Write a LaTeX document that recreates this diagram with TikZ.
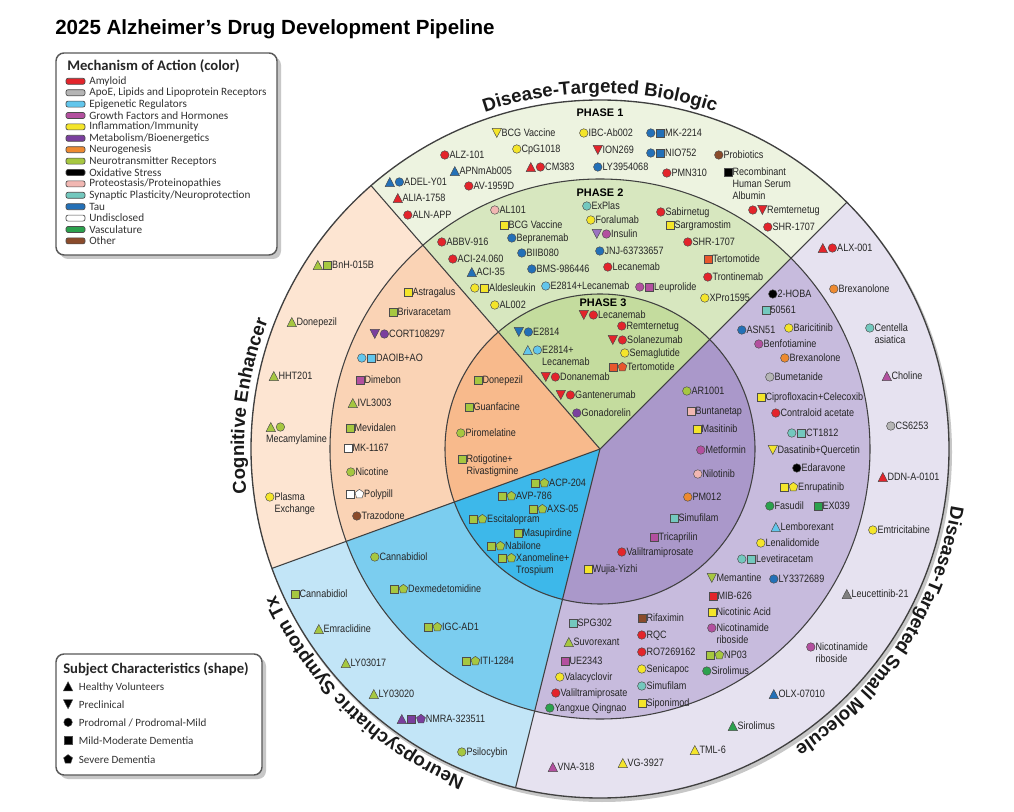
\documentclass[tikz,border=0pt]{standalone}
\usepackage{fontspec}
\setmainfont{Liberation Sans}
\newfontfamily\nf[FakeStretch=0.85]{Liberation Sans}
\newfontfamily\cf{Carlito}
\usetikzlibrary{decorations.text}
\definecolor{amy}{HTML}{E3242B}
\definecolor{apoe}{HTML}{B5B5B5}
\definecolor{epi}{HTML}{62C6EC}
\definecolor{grow}{HTML}{7A3F9E}
\definecolor{infl}{HTML}{F4E52A}
\definecolor{meta}{HTML}{B3509F}
\definecolor{neurog}{HTML}{EE8A30}
\definecolor{ntr}{HTML}{A6C740}
\definecolor{oxs}{HTML}{000000}
\definecolor{prot}{HTML}{F1B7B2}
\definecolor{syn}{HTML}{73C8BE}
\definecolor{tau}{HTML}{2370B7}
\definecolor{und}{HTML}{FFFFFF}
\definecolor{vasc}{HTML}{2BA14D}
\definecolor{oth}{HTML}{8A4B2B}
\definecolor{tert}{HTML}{E8572C}
\definecolor{insc}{HTML}{9B73C2}
\definecolor{leuc}{HTML}{7F7F7F}
\definecolor{lbltext}{HTML}{262626}
\definecolor{g1}{HTML}{EDF3E0}
\definecolor{g2}{HTML}{D7E7BF}
\definecolor{g3}{HTML}{C4DC9E}
\definecolor{o1}{HTML}{FDE5D2}
\definecolor{o2}{HTML}{FAD3B5}
\definecolor{o3}{HTML}{F8BA8C}
\definecolor{b1}{HTML}{C2E5F7}
\definecolor{b2}{HTML}{7BCDEF}
\definecolor{b3}{HTML}{3DB8EA}
\definecolor{p1}{HTML}{E6E2F0}
\definecolor{p2}{HTML}{C7BBDD}
\definecolor{p3}{HTML}{AA98CA}
\tikzset{mkst/.style={line width=0.35pt, draw=black!70, fill=#1}}
\newcommand\mkbb{\useasboundingbox (0pt,-1pt) rectangle (7.2pt,6.5pt);}
\newcommand\Mc[1]{\tikz[baseline=0pt]{\mkbb\path[mkst=#1] (3.6pt,2.9pt) circle[radius=3.2pt];}}
\newcommand\Ms[1]{\tikz[baseline=0pt]{\mkbb\path[mkst=#1] (0.55pt,-0.15pt) rectangle (6.65pt,5.95pt);}}
\newcommand\Mt[1]{\tikz[baseline=0pt]{\mkbb\path[mkst=#1] (0.1pt,-0.5pt) -- (7.1pt,-0.5pt) -- (3.6pt,6.3pt) -- cycle;}}
\newcommand\Mv[1]{\tikz[baseline=0pt]{\mkbb\path[mkst=#1] (0.1pt,6.3pt) -- (7.1pt,6.3pt) -- (3.6pt,-0.5pt) -- cycle;}}
\newcommand\Mp[1]{\tikz[baseline=0pt]{\mkbb\path[mkst=#1] (3.6pt,6.4pt) -- (6.93pt,3.98pt) -- (5.66pt,0.07pt) -- (1.54pt,0.07pt) -- (0.27pt,3.98pt) -- cycle;}}
\newcommand\indA{\hspace*{7.2pt}}
\newcommand\indB{\hspace*{14.4pt}}
\newcommand\sect{\bfseries\fontsize{14}{16}\selectfont}
\newcommand\slice[4]{\fill[#1] (0,0) -- (#2:#4) arc[start angle=#2, end angle=#3, radius=#4] -- cycle;}
\begin{document}
\begin{tikzpicture}[x=0.75pt,y=-0.75pt,
  lbl/.style={anchor=north west, yshift=3.6pt, inner sep=0pt, outer sep=0pt, align=left, font=\nf\fontsize{8}{8.8}\selectfont, text=lbltext},
  phase/.style={inner sep=0pt, font=\bfseries\fontsize{8.2}{10}\selectfont},
  bline/.style={draw=black!75, line width=0.8pt},
  legbox/.style={fill=white, draw=black!65, line width=1.1pt, rounded corners=6pt},
  legshadow/.style={fill=black!22, rounded corners=6pt},
  sleg/.style={anchor=north west, yshift=3.6pt, inner sep=0pt, font=\cf\fontsize{8.3}{10}\selectfont, text=black!80},
  sectxt/.style={decorate, decoration={text along path, text align=center, text color=black!90}}]
\useasboundingbox (0,0) rectangle (1014,812);
\fill[white] (0,0) rectangle (1014,812);
\node[anchor=west, inner sep=0pt, font=\bfseries\fontsize{15.4}{18}\selectfont] (title) at (55,29) {2025 Alzheimer’s Drug Development Pipeline};

\begin{scope}[shift={(600,449)}]
\fill[black!22] (2,3) circle[radius=350];
\slice{g1}{-45}{-131}{349}
\slice{g2}{-45}{-131}{270}
\slice{g3}{-45}{-131}{155}
\slice{o1}{-131}{-200}{349}
\slice{o2}{-131}{-200}{270}
\slice{o3}{-131}{-200}{155}
\slice{b1}{-200}{-256}{349}
\slice{b2}{-200}{-256}{270}
\slice{b3}{-200}{-256}{155}
\slice{p1}{-256}{-405}{349}
\slice{p2}{-256}{-405}{270}
\slice{p3}{-256}{-405}{155}
\draw[bline] (0,0) circle[radius=155] (0,0) circle[radius=270];
\draw[bline, line width=1pt] (0,0) circle[radius=349];
\foreach \a in {-45,-131,-200,-256} \draw[bline] (0,0) -- (\a:349);
\path[sectxt, decoration={text={|\sect|Disease-Targeted Biologic}}] (-115:356) arc[start angle=-115, end angle=-65, radius=356];
\path[sectxt, decoration={text={|\sect|Disease-Targeted Small Molecule}}] (3:356) arc[start angle=3, end angle=63, radius=356];
\path[sectxt, decoration={text={|\sect|Neuropsychiatric Symptom Tx}}] (-250:356) arc[start angle=-250, end angle=-202, radius=356];
\path[sectxt, decoration={text={|\sect|Cognitive Enhancer}}] (-194:356) arc[start angle=-194, end angle=-152, radius=356];
\end{scope}

% phase labels
\node[phase] (ph1) at (600,113) {PHASE 1};
\node[phase] (ph2) at (600,193) {PHASE 2};
\node[phase] (ph3) at (603,303) {PHASE 3};

% Phase 1
\node[lbl] (p1bcg) at (492,133) {\Mv{infl}BCG Vaccine};
\node[lbl] (p1ibc) at (579,133) {\Mc{infl}IBC-Ab002};
\node[lbl] (p1mk) at (646,133) {\Mc{tau}\Ms{tau}MK-2214};
\node[lbl] (p1alz) at (440,155) {\Mc{amy}ALZ-101};
\node[lbl] (p1cpg) at (512,149) {\Mc{infl}CpG1018};
\node[lbl] (p1ion) at (593,150) {\Mv{amy}ION269};
\node[lbl] (p1nio) at (646,153) {\Mc{tau}\Ms{tau}NIO752};
\node[lbl] (p1pro) at (714,155) {\Mc{oth}Probiotics};
\node[lbl] (p1apn) at (450,171) {\Mt{tau}APNmAb005};
\node[lbl] (p1cm) at (526,167) {\Mt{amy}\Mc{amy}CM383};
\node[lbl] (p1ly) at (593,167) {\Mc{tau}LY3954068};
\node[lbl] (p1pmn) at (662,173) {\Mc{amy}PMN310};
\node[lbl] (p1rhsa) at (723,172) {\Ms{oxs}Recombinant\\\indA Human Serum\\\indA Albumin};
\node[lbl] (p1adel) at (385,182) {\Mt{tau}\Mc{tau}ADEL-Y01};
\node[lbl] (p1av) at (464,186) {\Mc{amy}AV-1959D};
\node[lbl] (p1alia) at (393,198) {\Mt{amy}ALIA-1758};
\node[lbl] (p1aln) at (403,215) {\Mc{amy}ALN-APP};
\node[lbl] (p1rem) at (748,210) {\Mc{amy}\Mv{amy}Remternetug};
\node[lbl] (p1shr) at (763,227) {\Mc{amy}SHR-1707};

% Phase 2
\node[lbl] (p2al101) at (490,210) {\Mc{prot}AL101};
\node[lbl] (p2explas) at (582,206) {\Mc{syn}ExPlas};
\node[lbl] (p2sab) at (656,212) {\Mc{amy}Sabirnetug};
\node[lbl] (p2bcg) at (499,225) {\Ms{infl}BCG Vaccine};
\node[lbl] (p2fora) at (586,220) {\Mc{infl}Foralumab};
\node[lbl] (p2sarg) at (665,225) {\Ms{infl}Sargramostim};
\node[lbl] (p2ins) at (592,234) {\Mv{insc}\Mc{meta}Insulin};
\node[lbl] (p2bep) at (507,238) {\Mc{tau}Bepranemab};
\node[lbl] (p2abbv) at (437,242) {\Mc{amy}ABBV-916};
\node[lbl] (p2shr) at (683,242) {\Mc{amy}SHR-1707};
\node[lbl] (p2jnj) at (595,251) {\Mc{tau}JNJ-63733657};
\node[lbl] (p2aci24) at (448,259) {\Mc{amy}ACI-24.060};
\node[lbl] (p2biib) at (517,253) {\Mc{tau}BIIB080};
\node[lbl] (p2tert) at (703,259) {\Ms{tert}Tertomotide};
\node[lbl] (p2bms) at (527,269) {\Mc{tau}BMS-986446};
\node[lbl] (p2leca) at (603,267) {\Mc{amy}Lecanemab};
\node[lbl] (p2aci35) at (467,272) {\Mt{tau}ACI-35};
\node[lbl] (p2tron) at (703,277) {\Mc{amy}Trontinemab};
\node[lbl] (p2alde) at (470,288) {\Mc{infl}\Ms{infl}Aldesleukin};
\node[lbl] (p2e28l) at (541,286) {\Mc{epi}E2814+Lecanemab};
\node[lbl] (p2leup) at (635,287) {\Mc{meta}\Ms{meta}Leuprolide};
\node[lbl] (p2xpro) at (700,298) {\Mc{infl}XPro1595};
\node[lbl] (p2al002) at (490,305) {\Mc{infl}AL002};

% Phase 3
\node[lbl] (p3leca) at (579,315) {\Mv{amy}\Mc{amy}Lecanemab};
\node[lbl] (p3rem) at (617,326) {\Mc{amy}Remternetug};
\node[lbl] (p3e28) at (514,332) {\Mv{tau}\Mc{tau}E2814};
\node[lbl] (p3sola) at (608,340) {\Mv{amy}\Mc{amy}Solanezumab};
\node[lbl] (p3e28l) at (523,350) {\Mt{epi}\Mc{epi}E2814+\\\indB Lecanemab};
\node[lbl] (p3sema) at (620,353) {\Mc{infl}Semaglutide};
\node[lbl] (p3tert) at (608,367) {\Ms{tert}\Mp{tert}Tertomotide};
\node[lbl] (p3dona) at (541,377) {\Mv{amy}\Mc{amy}Donanemab};
\node[lbl] (p3gant) at (556,395) {\Mv{amy}\Mc{amy}Gantenerumab};
\node[lbl] (p3gona) at (572,413) {\Mc{grow}Gonadorelin};

% Cognitive enhancer inner
\node[lbl] (ciDon) at (473,380) {\Ms{ntr}Donepezil};
\node[lbl] (ciGuan) at (464,407) {\Ms{ntr}Guanfacine};
\node[lbl] (ciPiro) at (456,433) {\Mc{ntr}Piromelatine};
\node[lbl] (ciRot) at (457,459) {\Ms{ntr}Rotigotine+\\\indA Rivastigmine};

% Neuropsychiatric inner
\node[lbl] (nsAcp) at (530,483) {\Ms{ntr}\Mp{ntr}ACP-204};
\node[lbl] (nsAvp) at (497,496) {\Ms{ntr}\Mp{ntr}AVP-786};
\node[lbl] (nsAxs) at (528,509) {\Ms{ntr}\Mp{ntr}AXS-05};
\node[lbl] (nsEsc) at (468,519) {\Ms{ntr}\Mp{ntr}Escitalopram};
\node[lbl] (nsMas) at (513,533) {\Ms{ntr}Masupirdine};
\node[lbl] (nsNab) at (486,546) {\Ms{ntr}\Mp{ntr}Nabilone};
\node[lbl] (nsXan) at (497,558) {\Ms{ntr}\Mp{ntr}Xanomeline+\\\indB Trospium};

% Small molecule inner
\node[lbl] (smAR) at (682,391) {\Mc{ntr}AR1001};
\node[lbl] (smBun) at (686,411) {\Ms{prot}Buntanetap};
\node[lbl] (smMas) at (692,429) {\Ms{infl}Masitinib};
\node[lbl] (smMet) at (696,450) {\Mc{meta}Metformin};
\node[lbl] (smNil) at (693,474) {\Mc{prot}Nilotinib};
\node[lbl] (smPM) at (683,497) {\Mc{neurog}PM012};
\node[lbl] (smSim) at (669,518) {\Ms{syn}Simufilam};
\node[lbl] (smTri) at (649,537) {\Ms{meta}Tricaprilin};
\node[lbl] (smVal) at (617,552) {\Mc{amy}Valiltramiprosate};
\node[lbl] (smWuj) at (583,569) {\Ms{infl}Wujia-Yizhi};

% Small molecule middle
\node[lbl] (smHoba) at (768,294) {\Mc{oxs}2-HOBA};
\node[lbl] (sm50561) at (761,310) {\Ms{syn}50561};
\node[lbl] (smAsn) at (737,330) {\Mc{tau}ASN51};
\node[lbl] (smBari) at (784,328) {\Mc{infl}Baricitinib};
\node[lbl] (smBenf) at (754,344) {\Mc{meta}Benfotiamine};
\node[lbl] (smBrex) at (780,358) {\Mc{neurog}Brexanolone};
\node[lbl] (smBume) at (765,377) {\Mc{apoe}Bumetanide};
\node[lbl] (smCipro) at (756,397) {\Ms{infl}Ciprofloxacin+Celecoxib};
\node[lbl] (smContra) at (771,413) {\Mc{amy}Contraloid acetate};
\node[lbl] (smCT) at (787,433) {\Mc{syn}\Ms{syn}CT1812};
\node[lbl] (smDasa) at (768,450) {\Mv{infl}Dasatinib+Quercetin};
\node[lbl] (smEdar) at (792,468) {\Mc{oxs}Edaravone};
\node[lbl] (smEnru) at (779,487) {\Ms{infl}\Mp{infl}Enrupatinib};
\node[lbl] (smFas) at (765,506) {\Mc{vasc}Fasudil};
\node[lbl] (smEX) at (813,506) {\Ms{vasc}EX039};
\node[lbl] (smLemb) at (771,527) {\Mt{epi}Lemborexant};
\node[lbl] (smLena) at (756,543) {\Mc{infl}Lenalidomide};
\node[lbl] (smLeve) at (737,559) {\Mc{syn}\Ms{syn}Levetiracetam};
\node[lbl] (smMem) at (707,578) {\Mv{ntr}Memantine};
\node[lbl] (smLY) at (769,579) {\Mc{tau}LY3372689};
\node[lbl] (smMIB) at (708,596) {\Ms{amy}MIB-626};
\node[lbl] (smNicA) at (707,612) {\Ms{infl}Nicotinic Acid};
\node[lbl] (smNR) at (707,628) {\Mc{meta}Nicotinamide\\\indA riboside};
\node[lbl] (smNP) at (705,655) {\Ms{ntr}\Mp{ntr}NP03};
\node[lbl] (smSiro) at (702,671) {\Mc{vasc}Sirolimus};
\node[lbl] (smSPG) at (568,623) {\Ms{syn}SPG302};
\node[lbl] (smRifa) at (637,618) {\Ms{oth}Rifaximin};
\node[lbl] (smSuvo) at (564,642) {\Mt{ntr}Suvorexant};
\node[lbl] (smRQC) at (637,635) {\Mc{amy}RQC};
\node[lbl] (smUE) at (560,661) {\Ms{meta}UE2343};
\node[lbl] (smRO) at (637,652) {\Mc{amy}RO7269162};
\node[lbl] (smValac) at (555,677) {\Mc{infl}Valacyclovir};
\node[lbl] (smSeni) at (637,669) {\Mc{infl}Senicapoc};
\node[lbl] (smVal2) at (551,693) {\Mc{amy}Valiltramiprosate};
\node[lbl] (smSim2) at (637,686) {\Mc{syn}Simufilam};
\node[lbl] (smYang) at (545,708) {\Mc{vasc}Yangxue Qingnao};
\node[lbl] (smSipo) at (637,703) {\Ms{infl}Siponimod};

% Small molecule outer
\node[lbl] (soALX) at (818,248) {\Mt{amy}\Mc{amy}ALX-001};
\node[lbl] (soBrex) at (829,289) {\Mc{neurog}Brexanolone};
\node[lbl] (soCent) at (865,328) {\Mc{syn}Centella\\\indA asiatica};
\node[lbl] (soChol) at (882,376) {\Mt{meta}Choline};
\node[lbl] (soCS) at (886,426) {\Mc{apoe}CS6253};
\node[lbl] (soDDN) at (878,477) {\Mt{amy}DDN-A-0101};
\node[lbl] (soEmt) at (868,530) {\Mc{infl}Emtricitabine};
\node[lbl] (soLeu) at (842,594) {\Mt{leuc}Leucettinib-21};
\node[lbl] (soNR) at (806,647) {\Mc{meta}Nicotinamide\\\indA riboside};
\node[lbl] (soOLX) at (769,694) {\Mt{tau}OLX-07010};
\node[lbl] (soSiro) at (728,726) {\Mt{vasc}Sirolimus};
\node[lbl] (soTML) at (690,750) {\Mt{infl}TML-6};
\node[lbl] (soVG) at (618,763) {\Mt{infl}VG-3927};
\node[lbl] (soVNA) at (548,767) {\Mt{meta}VNA-318};

% Cognitive middle
\node[lbl] (cmAstr) at (403,292) {\Ms{infl}Astragalus};
\node[lbl] (cmBriv) at (388,312) {\Ms{ntr}Brivaracetam};
\node[lbl] (cmCORT) at (370,334) {\Mv{grow}\Mc{grow}CORT108297};
\node[lbl] (cmDAOIB) at (357,358) {\Mc{epi}\Ms{epi}DAOIB+AO};
\node[lbl] (cmDime) at (355,380) {\Ms{meta}Dimebon};
\node[lbl] (cmIVL) at (348,403) {\Mt{ntr}IVL3003};
\node[lbl] (cmMev) at (345,428) {\Ms{ntr}Mevidalen};
\node[lbl] (cmMK) at (343,448) {\Ms{und}MK-1167};
\node[lbl] (cmNic) at (346,472) {\Mc{ntr}Nicotine};
\node[lbl] (cmPoly) at (345,494) {\Ms{und}\Mp{und}Polypill};
\node[lbl] (cmTraz) at (352,516) {\Mc{oth}Trazodone};

% Cognitive outer
\node[lbl] (coBnH) at (313,265) {\Mt{ntr}\Ms{ntr}BnH-015B};
\node[lbl] (coDon) at (287,322) {\Mt{ntr}Donepezil};
\node[lbl] (coHHT) at (269,376) {\Mt{ntr}HHT201};
\node[lbl] (coMeca) at (266,427) {\Mt{ntr}\Mc{ntr}\\Mecamylamine};
\node[lbl] (coPlas) at (265,497) {\Mc{infl}Plasma\\\indA Exchange};

% Neuropsychiatric middle
\node[lbl] (nmCann) at (370,557) {\Mc{ntr}Cannabidiol};
\node[lbl] (nmDex) at (389,589) {\Ms{ntr}\Mp{ntr}Dexmedetomidine};
\node[lbl] (nmIGC) at (423,627) {\Ms{ntr}\Mp{ntr}IGC-AD1};
\node[lbl] (nmITI) at (461,661) {\Ms{ntr}\Mp{ntr}ITI-1284};

% Neuropsychiatric outer
\node[lbl] (noCann) at (290,594) {\Ms{ntr}Cannabidiol};
\node[lbl] (noEmr) at (314,629) {\Mt{ntr}Emraclidine};
\node[lbl] (noLY17) at (341,663) {\Mt{ntr}LY03017};
\node[lbl] (noLY20) at (369,694) {\Mt{ntr}LY03020};
\node[lbl] (noNMRA) at (397,719) {\Mt{grow}\Ms{grow}\Mp{grow}NMRA-323511};
\node[lbl] (noPsil) at (457,752) {\Mc{ntr}Psilocybin};

% Mechanism legend
\fill[legshadow] (60,57) rectangle (281,259);
\draw[legbox] (56,53) rectangle (277,255);
\node[anchor=west, inner sep=0pt, font=\cf\bfseries\fontsize{11}{13}\selectfont, text=black!85] (mechtitle) at (67,66) {Mechanism of Action (color)};
\foreach \c/\t [count=\i] in {amy/Amyloid, apoe/{ApoE, Lipids and Lipoprotein Receptors}, epi/Epigenetic Regulators, meta/Growth Factors and Hormones, infl/{Inflammation/Immunity}, grow/{Metabolism/Bioenergetics}, neurog/Neurogenesis, ntr/Neurotransmitter Receptors, oxs/Oxidative Stress, prot/{Proteostasis/Proteinopathies}, syn/{Synaptic Plasticity/Neuroprotection}, tau/Tau, und/Undisclosed, vasc/Vasculature, oth/Other}{
  \pgfmathsetmacro\yy{81.3+(\i-1)*11.4}
  \draw[fill=\c, draw=black!70, line width=0.5pt, rounded corners=1.5pt] (66,\yy-3) rectangle (85,\yy+3);
  \node[anchor=west, inner sep=0pt, font=\cf\fontsize{8.4}{10}\selectfont, text=black!80] (mech\i) at (89,\yy) {\t};
}

% Subject legend
\fill[legshadow] (60,658) rectangle (266,779);
\draw[legbox] (56,654) rectangle (262,775);
\node[anchor=west, inner sep=0pt, font=\cf\bfseries\fontsize{11}{13}\selectfont, text=black!85] (subjtitle) at (63,669) {Subject Characteristics (shape)};
\node[sleg] (s1) at (63,686) {\Mt{black}\hspace{4.5pt}Healthy Volunteers};
\node[sleg] (s2) at (63,704) {\Mv{black}\hspace{4.5pt}Preclinical};
\node[sleg] (s3) at (63,722) {\Mc{black}\hspace{4.5pt}Prodromal / Prodromal-Mild};
\node[sleg] (s4) at (63,740) {\Ms{black}\hspace{4.5pt}Mild-Moderate Dementia};
\node[sleg] (s5) at (63,759) {\Mp{black}\hspace{4.5pt}Severe Dementia};
\end{tikzpicture}
\end{document}
